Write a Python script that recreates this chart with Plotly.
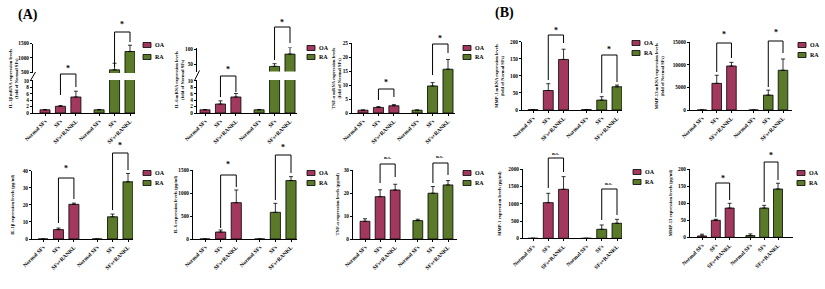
import plotly.graph_objects as go

W, H = 825, 289
OA_COLOR = "#a3385f"
RA_COLOR = "#5a7a2a"
FONT = "Liberation Serif"

categories = ["Normal SFs", "SFs", "SFs+RANKL"]
groups = ["OA", "RA"]

# ---- top row: mRNA (fold of Normal SFs) ----
il1b_mrna_oa = [1.0, 2.1, 5.0]
il1b_mrna_oa_err = [0.1, 0.2, 1.8]
il1b_mrna_ra = [1.0, 580, 1220]
il1b_mrna_ra_err = [0.1, 230, 220]

il6_mrna_oa = [1.0, 2.8, 5.0]
il6_mrna_oa_err = [0.1, 1.0, 1.1]
il6_mrna_ra = [1.0, 42, 83]
il6_mrna_ra_err = [0.1, 9, 22]

tnf_mrna_oa = [1.0, 2.0, 2.6]
tnf_mrna_oa_err = [0.1, 0.3, 0.4]
tnf_mrna_ra = [1.0, 9.7, 15.7]
tnf_mrna_ra_err = [0.1, 1.2, 3.5]

mmp1_mrna_oa = [1.0, 57, 148]
mmp1_mrna_oa_err = [0, 20, 30]
mmp1_mrna_ra = [1.0, 29, 68]
mmp1_mrna_ra_err = [0, 10, 5]

mmp13_mrna_oa = [1.0, 5900, 9750]
mmp13_mrna_oa_err = [0, 1800, 800]
mmp13_mrna_ra = [1.0, 3300, 8800]
mmp13_mrna_ra_err = [0, 1100, 2500]

# ---- bottom row: protein (pg/ml) ----
il1b_prot_oa = [0, 5.5, 20.3]
il1b_prot_oa_err = [0, 0.9, 0.7]
il1b_prot_ra = [0, 13.0, 33.5]
il1b_prot_ra_err = [0, 1.6, 4.9]

il6_prot_oa = [0, 152, 790]
il6_prot_oa_err = [0, 44, 275]
il6_prot_ra = [0, 580, 1270]
il6_prot_ra_err = [0, 195, 85]

tnf_prot_oa = [7.7, 18.4, 21.3]
tnf_prot_oa_err = [1.1, 3.0, 2.5]
tnf_prot_ra = [8.0, 19.9, 23.5]
tnf_prot_ra_err = [0.6, 2.9, 1.9]

mmp1_prot_oa = [0, 1034, 1420]
mmp1_prot_oa_err = [0, 270, 367]
mmp1_prot_ra = [0, 261, 435]
mmp1_prot_ra_err = [0, 125, 115]

mmp13_prot_oa = [4, 50, 86]
mmp13_prot_oa_err = [5, 3, 14]
mmp13_prot_ra = [5, 86, 142]
mmp13_prot_ra_err = [5, 8, 17]

x_oa = [0, 1, 2]
x_ra = [3.5, 4.5, 5.5]


def px(x):
    return x / W


def py(y):
    return 1 - y / H


fig = go.Figure()
layout = {}
shapes = []
annotations = []
axis_counter = [0]


def new_axes():
    axis_counter[0] += 1
    n = axis_counter[0]
    xk = "xaxis" if n == 1 else f"xaxis{n}"
    yk = "yaxis" if n == 1 else f"yaxis{n}"
    xr = "x" if n == 1 else f"x{n}"
    yr = "y" if n == 1 else f"y{n}"
    return xk, yk, xr, yr


def add_bars(xr, yr, oa, oa_err, ra, ra_err):
    for xs, vals, errs, col in ((x_oa, oa, oa_err, OA_COLOR), (x_ra, ra, ra_err, RA_COLOR)):
        fig.add_trace(go.Bar(
            x=xs, y=vals, width=0.65, xaxis=xr, yaxis=yr, showlegend=False,
            marker=dict(color=col, line=dict(color="black", width=0.8)),
            error_y=dict(type="data", array=errs, arrayminus=[0] * len(errs), symmetric=False,
                         color="black", thickness=0.8, width=2),
        ))


def yaxis_dict(dom, rng, ticks, xr):
    return dict(domain=dom, range=rng, tickvals=ticks, ticktext=[str(t) for t in ticks],
                anchor=xr, showline=True, automargin=False, ticklabeloverflow="allow",
                linecolor="black", linewidth=1, ticks="outside", ticklen=2, tickwidth=0.8,
                tickcolor="black", showgrid=False, zeroline=False,
                tickfont=dict(family=FONT, size=5.3, color="black", weight="bold"))


def xaxis_dict(L, R, x0, xl, yr, show=True):
    s = (xl - x0) / 5.5
    d = dict(domain=[px(L), px(R)], range=[-(x0 - L) / s, (R - x0) / s], anchor=yr,
             showgrid=False, zeroline=False, fixedrange=True, automargin=False)
    if show:
        d.update(showline=True, linecolor="black", linewidth=1, ticks="outside", ticklen=2,
                 tickwidth=0.8, tickcolor="black", tickvals=x_oa + x_ra,
                 ticktext=categories + categories, tickangle=-45, ticklabeloverflow="allow",
                 tickfont=dict(family=FONT, size=5.5, color="black", weight="bold"))
    else:
        d.update(showline=False, showticklabels=False, ticks="")
    return d


def add_extras(xr, L, base, top, title_x, title, legend, brackets):
    annotations.append(dict(x=px(title_x), y=py((base + top) / 2), xref="paper", yref="paper",
                            text=title, textangle=-90, showarrow=False,
                            xanchor="center", yanchor="middle",
                            font=dict(family=FONT, size=4.6, color="black", weight="bold")))
    lx, oy, ry = legend
    for g, yy, col in (("OA", oy, OA_COLOR), ("RA", ry, RA_COLOR)):
        shapes.append(dict(type="rect", xref="paper", yref="paper", x0=px(lx), x1=px(lx + 8),
                           y0=py(yy - 2.5), y1=py(yy + 2.5), fillcolor=col,
                           line=dict(color="black", width=0.8)))
        annotations.append(dict(x=px(lx + 10), y=py(yy), xref="paper", yref="paper", text=g,
                                showarrow=False, xanchor="left", yanchor="middle",
                                font=dict(family=FONT, size=6, color="black", weight="bold")))
    for (xa, xb, ytop, ya, yb, lab, ly) in brackets:
        shapes.append(dict(type="path", xref=xr, yref="paper",
                           path=f"M {xa},{py(ya)} L {xa},{py(ytop)} L {xb},{py(ytop)} L {xb},{py(yb)}",
                           line=dict(color="black", width=1)))
        size = 8 if lab == "*" else 5
        annotations.append(dict(x=(xa + xb) / 2, y=py(ly), xref=xr, yref="paper", text=lab,
                                showarrow=False, xanchor="center", yanchor="middle",
                                font=dict(family=FONT, size=size, color="black", weight="bold")))


def simple_panel(oa, oa_err, ra, ra_err, L, R, x0, xl, base, top, ymax, ticks, title, title_x,
                 legend, brackets):
    xk, yk, xr, yr = new_axes()
    add_bars(xr, yr, oa, oa_err, ra, ra_err)
    layout[xk] = xaxis_dict(L, R, x0, xl, yr)
    layout[yk] = yaxis_dict([py(base), py(top)], [0, ymax], ticks, xr)
    add_extras(xr, L, base, top, title_x, title, legend, brackets)


def broken_panel(oa, oa_err, ra, ra_err, L, R, x0, xl, base, low_top, low_max, up_bot, top,
                 up_range, up_ticks, title, title_x, legend, brackets):
    xk, yk, xr, yr = new_axes()
    add_bars(xr, yr, oa, oa_err, ra, ra_err)
    layout[xk] = xaxis_dict(L, R, x0, xl, yr)
    layout[yk] = yaxis_dict([py(base), py(low_top)], [0, low_max], [0, 2, 4, 6, 8, 10], xr)
    xk2, yk2, xr2, yr2 = new_axes()
    add_bars(xr2, yr2, oa, oa_err, ra, ra_err)
    layout[xk2] = xaxis_dict(L, R, x0, xl, yr2, show=False)
    layout[yk2] = yaxis_dict([py(up_bot), py(top)], up_range, up_ticks, xr2)
    shapes.append(dict(type="line", xref="paper", yref="paper", x0=px(L - 2.5), x1=px(L + 2.5),
                       y0=py(low_top + 0.5), y1=py(up_bot - 1), line=dict(color="black", width=1)))
    add_extras(xr, L, base, top, title_x, title, legend, brackets)


T1 = "IL-1β mRNA expression levels<br>(fold of Normal SFs)"
T2 = "IL-6 mRNA expression levels<br>(fold of Normal SFs)"
T3 = "TNF-α mRNA expression levels<br>(fold of Normal SFs)"
T4 = "MMP-1 mRNA expression levels<br>(fold of Normal SFs)"
T5 = "MMP-13 mRNA expression levels<br>(fold of Normal SFs)"

broken_panel(il1b_mrna_oa, il1b_mrna_oa_err, il1b_mrna_ra, il1b_mrna_ra_err,
             33, 135, 45, 130, 113, 80, 10.3, 73, 43.5, [470, 1500], [500, 1000, 1500],
             T1, 13, (143, 45, 57),
             [(1, 2, 74, 95, 87, "*", 68), (4.5, 5.5, 32, 67, 42, "*", 25)])

broken_panel(il6_mrna_oa, il6_mrna_oa_err, il6_mrna_ra, il6_mrna_ra_err,
             197, 297, 205, 290, 113, 80, 10.3, 71.5, 47.5, [25, 105], [50, 100],
             T2, 179, (307, 48, 57),
             [(1, 2, 76, 97, 92, "*", 70), (4.5, 5.5, 27, 60, 43, "*", 22)])

simple_panel(tnf_mrna_oa, tnf_mrna_oa_err, tnf_mrna_ra, tnf_mrna_ra_err,
             352, 455, 363, 448, 113, 43.3, 25, [0, 5, 10, 15, 20, 25], T3, 336, (463, 48, 57),
             [(1, 2, 89, 100, 97, "*", 82), (4.5, 5.5, 44, 75, 53, "*", 38)])

simple_panel(mmp1_mrna_oa, mmp1_mrna_oa_err, mmp1_mrna_ra, mmp1_mrna_ra_err,
             522, 622, 533, 617, 110, 41.7, 200, [0, 50, 100, 150, 200], T4, 500, (632, 43, 53),
             [(1, 2, 35, 80, 43, "*", 31), (4.5, 5.5, 55, 93, 82, "*", 50)])

simple_panel(mmp13_mrna_oa, mmp13_mrna_oa_err, mmp13_mrna_ra, mmp13_mrna_ra_err,
             690, 792, 702, 783, 110, 42.3, 15000, [0, 5000, 10000, 15000], T5, 659, (798, 45, 55),
             [(1, 2, 43, 72, 58, "*", 35), (4.5, 5.5, 41, 87, 53, "*", 33)])

simple_panel(il1b_prot_oa, il1b_prot_oa_err, il1b_prot_ra, il1b_prot_ra_err,
             32, 133, 43, 128, 239, 170.7, 40, [0, 10, 20, 30, 40],
             "IL-1β expression levels (pg/ml)", 13, (143, 173, 183),
             [(1, 2, 178, 223, 199, "*", 168), (4.5, 5.5, 153, 210, 170, "*", 145)])

simple_panel(il6_prot_oa, il6_prot_oa_err, il6_prot_ra, il6_prot_ra_err,
             193, 297, 205, 291, 239, 170, 1500, [0, 500, 1000, 1500],
             "IL-6 expression levels (pg/ml)", 175, (307, 173, 183),
             [(1, 2, 175, 228, 187, "*", 164), (4.5, 5.5, 155, 200, 173, "*", 147)])

simple_panel(tnf_prot_oa, tnf_prot_oa_err, tnf_prot_ra, tnf_prot_ra_err,
             353, 457, 365, 448, 239, 170, 30, [0, 10, 20, 30],
             "TNF-α expression levels (pg/ml)", 337, (463, 173, 183),
             [(1, 2, 164, 183, 177, "n.s.", 157), (4.5, 5.5, 163, 183, 175, "n.s.", 156)])

simple_panel(mmp1_prot_oa, mmp1_prot_oa_err, mmp1_prot_ra, mmp1_prot_ra_err,
             523, 622, 533, 617, 238.3, 169.3, 2000, [0, 500, 1000, 1500, 2000],
             "MMP-1 expression levels (pg/ml)", 500, (633, 172, 182),
             [(1, 2, 158, 188, 172, "n.s.", 153), (4.5, 5.5, 189, 220, 215, "n.s.", 183)])

simple_panel(mmp13_prot_oa, mmp13_prot_oa_err, mmp13_prot_ra, mmp13_prot_ra_err,
             690, 793, 702, 778, 237.3, 169.3, 200, [0, 50, 100, 150, 200],
             "MMP-13 expression levels (pg/ml)", 670, (797, 173, 183),
             [(1, 2, 183, 217, 200, "*", 178), (4.5, 5.5, 162, 202, 180, "*", 155)])

annotations.append(dict(x=px(28), y=py(15), xref="paper", yref="paper", text="(A)", showarrow=False,
                        xanchor="center", yanchor="middle",
                        font=dict(family=FONT, size=14, color="black", weight="bold")))
annotations.append(dict(x=px(505), y=py(13), xref="paper", yref="paper", text="(B)", showarrow=False,
                        xanchor="center", yanchor="middle",
                        font=dict(family=FONT, size=14, color="black", weight="bold")))

fig.update_layout(**layout)
fig.update_layout(width=W, height=H, autosize=False,
                  margin=dict(l=0, r=0, t=0, b=0, pad=0, autoexpand=False),
                  paper_bgcolor="white", plot_bgcolor="white", barmode="overlay",
                  shapes=shapes, annotations=annotations, showlegend=False,
                  font=dict(family=FONT, color="black"))
fig.write_html("out.html", config={"displayModeBar": False, "responsive": False},
               post_script="document.body.style.margin='0px';document.body.style.padding='0px';"
                           "document.body.style.overflow='hidden';")
